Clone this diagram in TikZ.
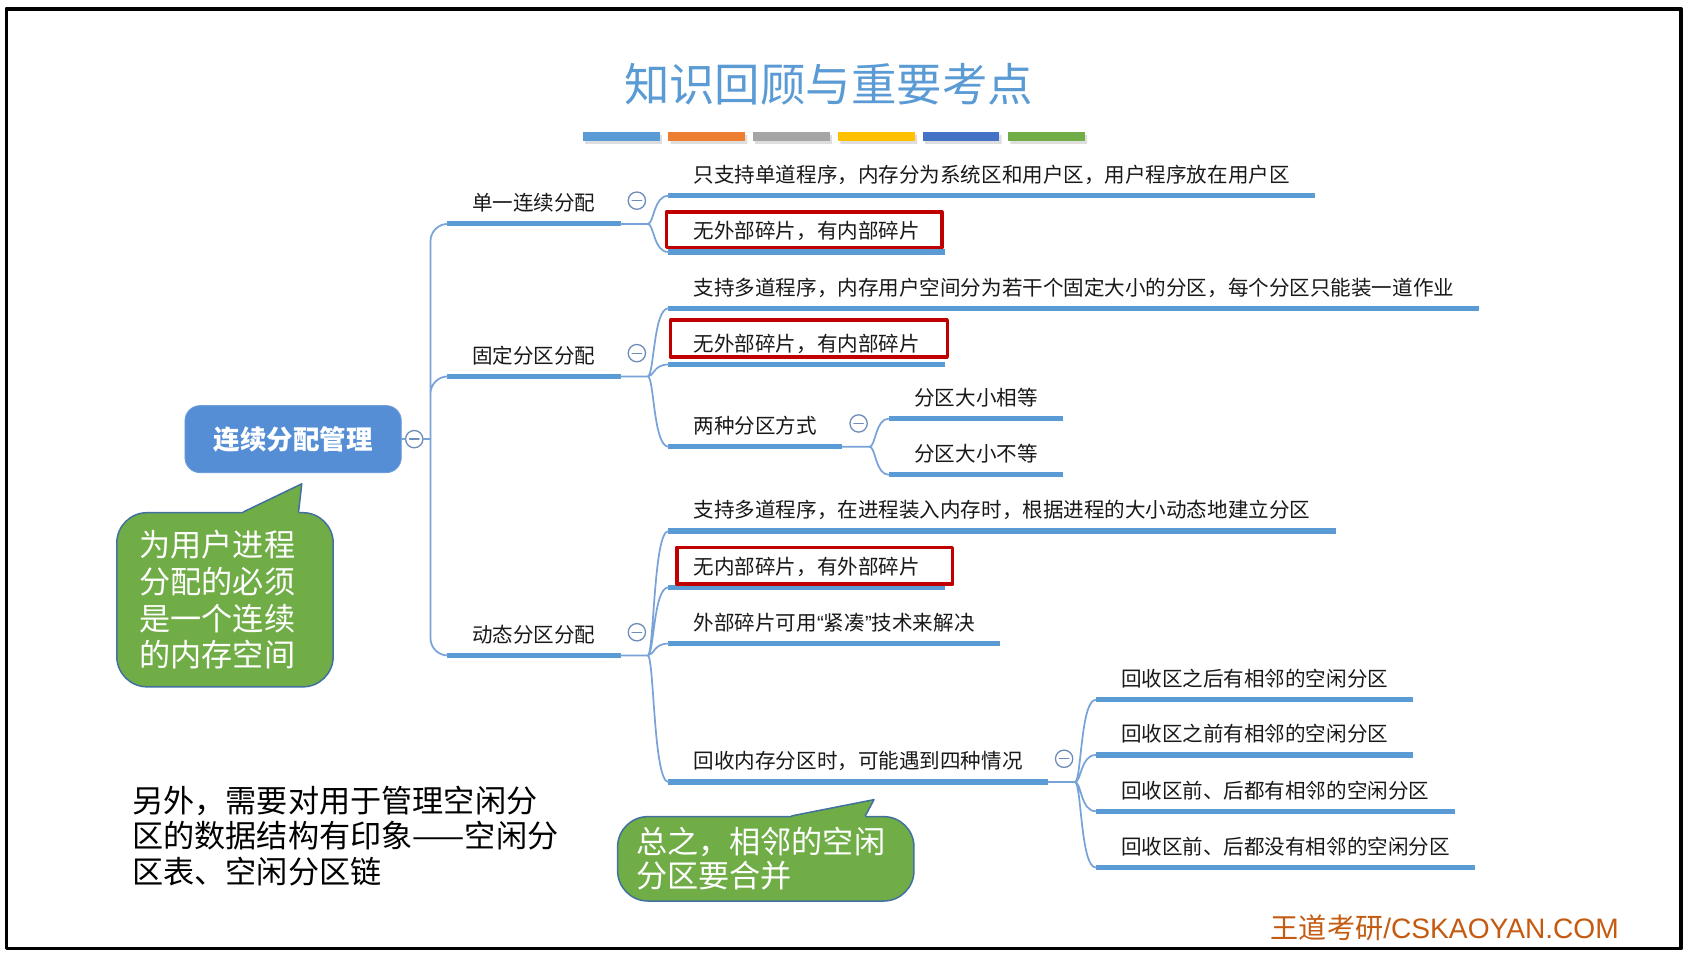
\documentclass[tikz,border=0pt]{standalone}
\usepackage{fontspec}
\setmainfont{Noto Sans CJK SC}
\newfontfamily\latinfont{Liberation Sans}
\usetikzlibrary{calc}
\definecolor{mapblue}{RGB}{91,155,213}
\definecolor{rootblue}{RGB}{85,142,213}
\definecolor{linkblue}{RGB}{120,163,216}
\definecolor{foldgray}{RGB}{110,140,185}
\definecolor{boxred}{RGB}{192,0,0}
\definecolor{notegreen}{RGB}{112,173,71}
\definecolor{noteedge}{RGB}{65,113,156}
\definecolor{footbrown}{RGB}{197,90,17}
\definecolor{barorange}{RGB}{237,125,49}
\definecolor{bargray}{RGB}{165,165,165}
\definecolor{baryellow}{RGB}{255,192,0}
\definecolor{bardark}{RGB}{68,114,196}
\begin{document}
\begin{tikzpicture}[x=.5pt, y=-.5pt, line join=round, line cap=round,
	topic/.style={anchor=south west, inner xsep=11.5pt, inner ysep=4.8pt,
		text height=8.4pt, text depth=1.1pt, text=black!90,
		font=\fontsize{9.5pt}{11pt}\selectfont,
		append after command={(\tikzlastnode.south west) edge[uline] (\tikzlastnode.south east)}},
	uline/.style={draw=mapblue, line width=2.4pt, line cap=butt},
	link/.style={draw=linkblue, line width=.8pt},
	fold/.style={circle, draw=foldgray, fill=white, line width=.6pt, minimum size=8pt, inner sep=0pt,
		path picture={\draw[foldgray, line width=.6pt] ([xshift=-2.2pt]path picture bounding box.center) -- ([xshift=2.2pt]path picture bounding box.center);}},
	root/.style={fill=rootblue, draw=rootblue!85!white, rounded corners=7pt, text=white,
		minimum width=100pt, minimum height=31pt, font=\bfseries\fontsize{12.25pt}{14pt}\selectfont},
	redbox/.style={draw=boxred, line width=1.6pt},
	note/.style={draw=noteedge, fill=notegreen, line width=.7pt, rounded corners=14pt, text=white, align=left},
	tail/.style={draw=noteedge, line width=.7pt}]
	\fill[white] (0,0) rectangle (1568,887.5);
	\useasboundingbox (0,0) rectangle (1568,887.5);
	\draw[line width=1.75pt] (6,8) rectangle (1554,877);
	% title and colour bars
	\node[text=mapblue, font=\fontsize{21pt}{23pt}\selectfont] (title) at (766,78) {知识回顾与重要考点};
	\fill[black!13] (541,125) rectangle (612,133) (620,125) rectangle (691,133) (698,125) rectangle (769,133)
		(777,125) rectangle (848,133) (855,125) rectangle (926,133) (934,125) rectangle (1005,133);
	\fill[mapblue] (539,122) rectangle (610,130);
	\fill[barorange] (618,122) rectangle (689,130);
	\fill[bargray] (696,122) rectangle (767,130);
	\fill[baryellow] (775,122) rectangle (846,130);
	\fill[bardark] (853,122) rectangle (924,130);
	\fill[notegreen] (932,122) rectangle (1003,130);
	% root
	\node[root] (root) at (271,406) {连续分配管理};
	\node[fold] (f0) at (383,406) {};
	\coordinate (j0) at (398,406);
	\draw[link] (root.east) -- (f0.west) (f0.east) -- (j0);
	\node[topic] (a1) at (413,207) {单一连续分配};
	\node[topic] (a2) at (413,348) {固定分区分配};
	\node[topic] (a3) at (413,606) {动态分区分配};
	\draw[link, rounded corners=8pt] (j0) |- (a1.south west) (j0) |- (a2.south west) (j0) |- (a3.south west);
	% single contiguous
	\node[fold] (f1) at ([xshift=7.5pt,yshift=1pt]a1.east) {};
	\coordinate (j1) at ([xshift=12.5pt]a1.south east);
	\node[topic] (b11) at (618,181) {只支持单道程序，内存分为系统区和用户区，用户程序放在用户区};
	\node[topic] (b12) at (618,233) {无外部碎片，有内部碎片};
	\draw[link] (a1.south east) -- (j1)
		(j1) .. controls +(6,0) and +(-14,0) .. (b11.south west)
		(j1) .. controls +(6,0) and +(-14,0) .. (b12.south west);
	\draw[redbox] ($(b12.north west)+(-2,2)$) rectangle ($(b12.south east)+(-3,-4)$);
	% fixed partitions
	\node[fold] (f2) at ([xshift=7.5pt,yshift=1pt]a2.east) {};
	\coordinate (j2) at ([xshift=12.5pt]a2.south east);
	\node[topic] (b21) at (618,285) {支持多道程序，内存用户空间分为若干个固定大小的分区，每个分区只能装一道作业};
	\node[topic] (b22) at (618,337) {无外部碎片，有内部碎片};
	\node[topic] (b23) at (618,413) {两种分区方式};
	\draw[link] (a2.south east) -- (j2)
		(j2) .. controls +(6,0) and +(-14,0) .. (b21.south west)
		(j2) .. controls +(6,0) and +(-14,0) .. (b22.south west)
		(j2) .. controls +(6,0) and +(-14,0) .. (b23.south west);
	\draw[redbox] ($(b22.north west)+(2,-2)$) rectangle ($(b22.south east)+(2,-7)$);
	\node[fold] (f23) at ([xshift=7.5pt,yshift=1pt]b23.east) {};
	\coordinate (j23) at ([xshift=12.5pt]b23.south east);
	\node[topic] (c1) at (822,387) {分区大小相等};
	\node[topic] (c2) at (822,439) {分区大小不等};
	\draw[link] (b23.south east) -- (j23)
		(j23) .. controls +(6,0) and +(-13,0) .. (c1.south west)
		(j23) .. controls +(6,0) and +(-13,0) .. (c2.south west);
	% dynamic partitions
	\node[fold] (f3) at ([xshift=7.5pt,yshift=1pt]a3.east) {};
	\coordinate (j3) at ([xshift=12.5pt]a3.south east);
	\node[topic] (b31) at (618,491) {支持多道程序，在进程装入内存时，根据进程的大小动态地建立分区};
	\node[topic] (b32) at (618,543) {无内部碎片，有外部碎片};
	\node[topic] (b33) at (618,595) {外部碎片可用{\latinfont“}紧凑{\latinfont”}技术来解决};
	\node[topic] (b34) at (618,723) {回收内存分区时，可能遇到四种情况};
	\draw[link] (a3.south east) -- (j3)
		(j3) .. controls +(6,0) and +(-14,0) .. (b31.south west)
		(j3) .. controls +(6,0) and +(-14,0) .. (b32.south west)
		(j3) .. controls +(6,0) and +(-14,0) .. (b33.south west)
		(j3) .. controls +(6,0) and +(-14,0) .. (b34.south west);
	\draw[redbox] ($(b32.north west)+(8,2)$) rectangle ($(b32.south east)+(7,-3)$);
	\node[fold] (f34) at ([xshift=7.5pt,yshift=1pt]b34.east) {};
	\coordinate (j34) at ([xshift=12.5pt]b34.south east);
	\node[topic] (d1) at (1013,647) {回收区之后有相邻的空闲分区};
	\node[topic] (d2) at (1013,698) {回收区之前有相邻的空闲分区};
	\node[topic] (d3) at (1013,750) {回收区前、后都有相邻的空闲分区};
	\node[topic] (d4) at (1013,802) {回收区前、后都没有相邻的空闲分区};
	\draw[link] (b34.south east) -- (j34)
		(j34) .. controls +(6,0) and +(-14,0) .. (d1.south west)
		(j34) .. controls +(6,0) and +(-14,0) .. (d2.south west)
		(j34) .. controls +(6,0) and +(-14,0) .. (d3.south west)
		(j34) .. controls +(6,0) and +(-14,0) .. (d4.south west);
	% callouts
	\node[note, minimum width=100pt, minimum height=80.5pt, text width=79pt, inner xsep=10.5pt,
		font=\fontsize{14.4pt}{17pt}\selectfont] (tip1) at (208,554.5) {为用户进程\\分配的必须\\是一个连续\\的内存空间};
	\coordinate (tip1end) at ($(tip1.north)+(71,-26)$);
	\fill[notegreen] ($(tip1.north)+(17,2.5)$) -- ($(tip1.north)+(17,0)$) -- (tip1end) -- ($(tip1.north)+(68,0)$) -- ($(tip1.north)+(68,2.5)$) -- cycle;
	\draw[tail] ($(tip1.north)+(17,0)$) -- (tip1end) -- ($(tip1.north)+(68,0)$);
	\node[note, minimum width=137pt, minimum height=39pt, text width=120pt, inner xsep=8.5pt,
		font=\fontsize{14.4pt}{15.5pt}\selectfont] (tip2) at (708,794) {总之，相邻的空闲\\分区要合并};
	\coordinate (tip2end) at ($(tip2.north)+(100,-15)$);
	\fill[notegreen] ($(tip2.north)+(24,2.5)$) -- ($(tip2.north)+(24,0)$) -- (tip2end) -- ($(tip2.north)+(92,0)$) -- ($(tip2.north)+(92,2.5)$) -- cycle;
	\draw[tail] ($(tip2.north)+(24,0)$) -- (tip2end) -- ($(tip2.north)+(92,0)$);
	\node[anchor=west, align=left, inner sep=0pt, font=\fontsize{14.4pt}{16.5pt}\selectfont] (memo) at (122,773)
		{另外，需要对用于管理空闲分\\区的数据结构有印象——空闲分\\区表、空闲分区链};
	\node[anchor=east, inner sep=0pt, text=footbrown, font=\fontsize{13pt}{15pt}\selectfont] (foot) at (1497,858)
		{王道考研{\latinfont/CSKAOYAN.COM}};
\end{tikzpicture}
\end{document}
